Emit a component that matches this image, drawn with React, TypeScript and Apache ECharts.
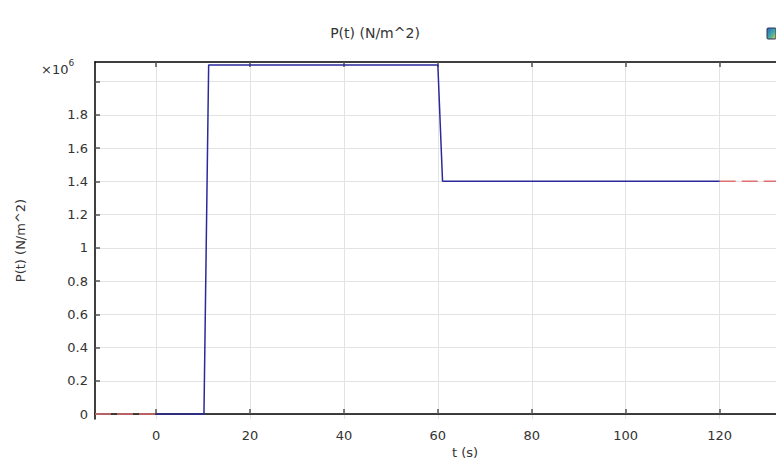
import React, { useEffect, useRef } from "react";
import * as echarts from "echarts";

const xTicks = [0, 20, 40, 60, 80, 100, 120];
const yTicks = [0, 200000, 400000, 600000, 800000, 1000000, 1200000, 1400000, 1600000, 1800000, 2000000];
const yLabelTicks = [0, 200000, 400000, 600000, 800000, 1000000, 1200000, 1400000, 1600000, 1800000];
const pressureSeries: [number, number][] = [
  [0, 0],
  [10.2, 0],
  [11.2, 2100000],
  [60, 2100000],
  [61, 1400000],
  [120, 1400000],
];
const extrapBefore: [number, number][] = [
  [-13, 0],
  [0, 0],
];
const extrapAfter: [number, number][] = [
  [120, 1400000],
  [132, 1400000],
];

const FONT = "DejaVu Sans";

export default function App() {
  const ref = useRef<HTMLDivElement>(null);
  useEffect(() => {
    document.body.style.margin = "0";
    const chart = echarts.init(ref.current!, null, { renderer: "svg" });
    const tickStyle = { color: "#555", width: 1.5 };
    chart.setOption({
      animation: false,
      backgroundColor: "#fff",
      grid: { left: 95, right: 0, top: 62, bottom: 42 },
      xAxis: [
        {
          type: "value",
          min: -13,
          max: 132,
          position: "bottom",
          axisLine: { show: true, lineStyle: { color: "#000", width: 1.5 } },
          axisTick: { show: true, inside: true, length: 5, lineStyle: tickStyle, customValues: xTicks },
          axisLabel: { customValues: xTicks, color: "#333", fontFamily: FONT, fontSize: 13, margin: 10 },
          splitLine: { show: true, lineStyle: { color: "#e3e3e3", width: 1 } },
        },
        {
          type: "value",
          min: -13,
          max: 132,
          position: "top",
          axisLine: { show: true, onZero: false, lineStyle: { color: "#000", width: 1.5 } },
          axisTick: { show: true, inside: true, length: 5, lineStyle: tickStyle, customValues: xTicks },
          axisLabel: { show: false },
          splitLine: { show: false },
        },
      ],
      yAxis: {
        type: "value",
        min: -30000,
        max: 2118000,
        axisLine: { show: true, onZero: false, lineStyle: { color: "#000", width: 1.5 } },
        axisTick: { show: true, inside: true, length: 5, lineStyle: tickStyle, customValues: yTicks },
        axisLabel: {
          customValues: yLabelTicks,
          color: "#333",
          fontFamily: FONT,
          fontSize: 13,
          margin: 7,
          formatter: (v: number) => String(Math.round(v / 1e5) / 10),
        },
        splitLine: { show: true, lineStyle: { color: "#e3e3e3", width: 1 } },
        name: "P(t) (N/m^2)",
        nameLocation: "middle",
        nameGap: 68,
        nameTextStyle: { color: "#333", fontFamily: FONT, fontSize: 13 },
      },
      series: [
        {
          type: "line",
          data: extrapBefore,
          symbol: "none",
          lineStyle: { color: "#e07070", width: 1.5, type: [16, 6] },
          z: 2,
        },
        {
          type: "line",
          data: extrapAfter,
          symbol: "none",
          lineStyle: { color: "#e07070", width: 1.5, type: [16, 6] },
          z: 2,
        },
        {
          type: "line",
          data: pressureSeries,
          symbol: "none",
          lineStyle: { color: "#2a2a9a", width: 1.5 },
          z: 3,
        },
      ],
      graphic: [
        {
          type: "text",
          x: 375,
          y: 33,
          style: {
            text: "P(t) (N/m^2)",
            fill: "#333",
            font: `14px "${FONT}"`,
            align: "center",
            verticalAlign: "middle",
          },
        },
        {
          type: "text",
          x: 465,
          y: 452,
          style: {
            text: "t (s)",
            fill: "#333",
            font: `13px "${FONT}"`,
            align: "center",
            verticalAlign: "middle",
          },
        },
        {
          type: "text",
          x: 41,
          y: 58,
          style: {
            text: "{a|×10}{b|6}",
            rich: {
              a: { fontFamily: FONT, fontSize: 13, fill: "#333", color: "#333", verticalAlign: "bottom", lineHeight: 18 },
              b: { fontFamily: FONT, fontSize: 9, fill: "#333", color: "#333", verticalAlign: "top", lineHeight: 10 },
            },
          },
        },
        {
          type: "rect",
          shape: { x: 767, y: 28, width: 9, height: 11, r: 1 },
          style: {
            fill: new echarts.graphic.LinearGradient(0, 0, 1, 1, [
              { offset: 0, color: "#2a66c8" },
              { offset: 0.6, color: "#4ab0a0" },
              { offset: 1, color: "#e8d040" },
            ]),
            stroke: "#335",
            lineWidth: 1,
          },
        },
      ],
    });
    return () => chart.dispose();
  }, []);
  return <div ref={ref} style={{ width: 776, height: 461 }} />;
}
